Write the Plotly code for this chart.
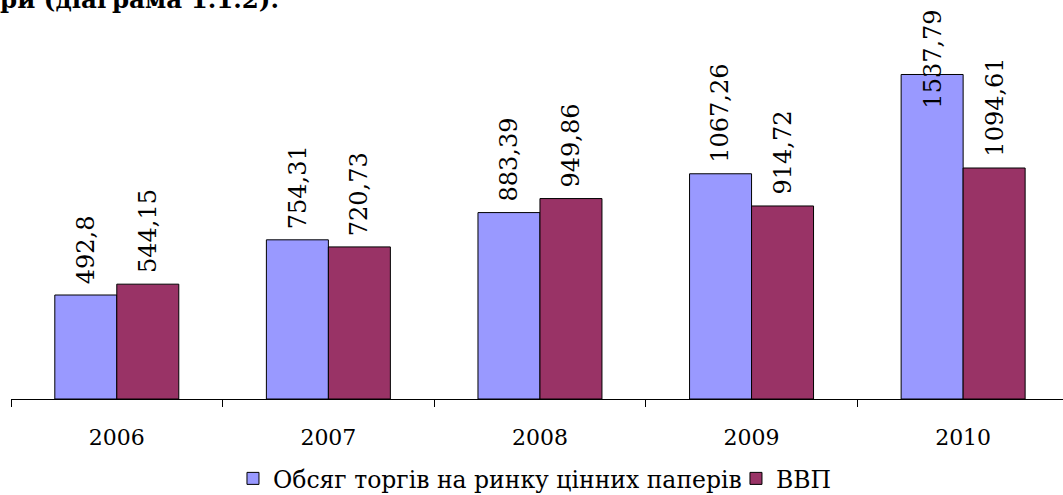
import plotly.graph_objects as go

years = ["2006", "2007", "2008", "2009", "2010"]
trading = [492.8, 754.31, 883.39, 1067.26, 1537.79]
gdp = [544.15, 720.73, 949.86, 914.72, 1094.61]
trading_labels = ["492,8", "754,31", "883,39", "1067,26", "1537,79"]
gdp_labels = ["544,15", "720,73", "949,86", "914,72", "1094,61"]
series_names = ["Обсяг торгів на ринку цінних паперів", "ВВП"]
heading = "ри (діаграма 1.1.2)."

W, H = 1063, 495
ML, MR, MT, MB = 11, 0, 20, 96
YMAX = 1796
XRANGE = [-0.5, 4.472]
BARGAP = 0.414
FONT = "DejaVu Serif"

fig = go.Figure()
fig.add_trace(go.Bar(x=years, y=trading, name=series_names[0],
                     marker=dict(color="#9999FF", line=dict(color="black", width=1))))
fig.add_trace(go.Bar(x=years, y=gdp, name=series_names[1],
                     marker=dict(color="#993366", line=dict(color="black", width=1))))

plot_h = H - MT - MB
px_per_unit = plot_h / YMAX
offset = (1 - BARGAP) / 4
label_len_px = 100
gap_px = 12
annots = []
for s, (vals, labs) in enumerate([(trading, trading_labels), (gdp, gdp_labels)]):
    sign = -1 if s == 0 else 1
    for i, (v, lab) in enumerate(zip(vals, labs)):
        top_px = MT + (YMAX - v) * px_per_unit  # pixel of bar top
        if top_px - gap_px - label_len_px < 5:
            annots.append(dict(x=i + sign * offset, y=1, xref="x", yref="paper",
                               yanchor="top", yshift=MT - 8, text=lab, textangle=-90,
                               showarrow=False, font=dict(family=FONT, size=24, color="black")))
        else:
            annots.append(dict(x=i + sign * offset, y=v, xref="x", yref="y",
                               yanchor="bottom", yshift=gap_px - 3, text=lab, textangle=-90,
                               showarrow=False, font=dict(family=FONT, size=24, color="black")))

annots.append(dict(x=0, y=1, xref="paper", yref="paper", xanchor="left", yanchor="bottom",
                   xshift=-ML - 2, yshift=MT - 16, text="<b>" + heading + "</b>", showarrow=False,
                   font=dict(family=FONT, size=24.5, color="black")))

fig.update_layout(
    width=W, height=H,
    margin=dict(l=ML, r=MR, t=MT, b=MB, autoexpand=False),
    paper_bgcolor="white", plot_bgcolor="white",
    barmode="group", bargap=BARGAP, bargroupgap=0,
    showlegend=True,
    legend=dict(orientation="h", x=0.211, xanchor="left", y=-0.152, yanchor="top",
                font=dict(family=FONT, size=23.5, color="black"),
                itemwidth=30, tracegroupgap=0,
                entrywidth=458, entrywidthmode="pixels"),
    annotations=annots,
    font=dict(family=FONT, color="black"),
)
fig.update_xaxes(range=XRANGE, showline=True, linecolor="black", linewidth=1, ticks="outside",
                 tickson="boundaries", ticklen=7, tickcolor="black", ticklabelstandoff=19,
                 tickfont=dict(family=FONT, size=22, color="black"), showgrid=False,
                 automargin=False)
fig.update_yaxes(range=[0, YMAX], visible=False, showgrid=False, automargin=False)

fig.write_html("out.html", config={"displayModeBar": False},
               post_script="document.body.style.margin='0';document.body.style.padding='0';")
